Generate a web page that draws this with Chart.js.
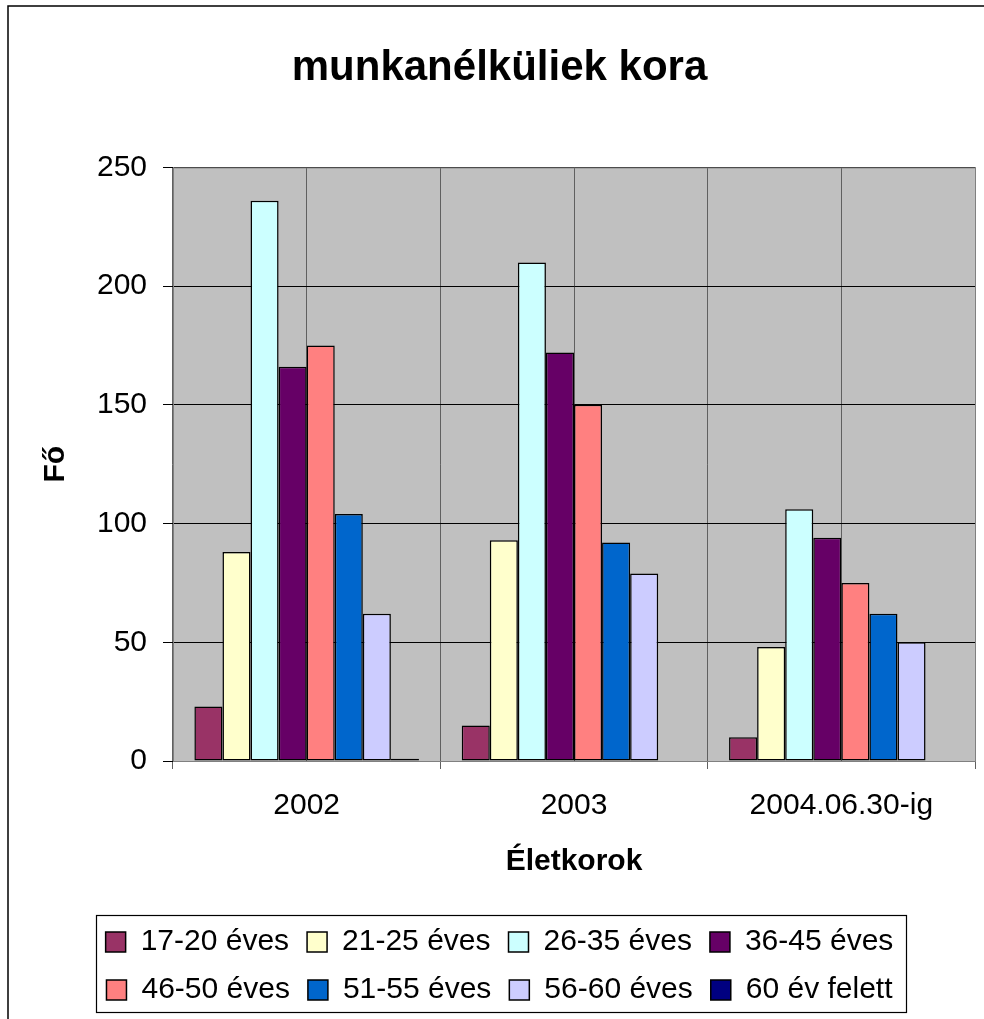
<!DOCTYPE html>
<html>
<head>
<meta charset="utf-8">
<script src="https://cdn.jsdelivr.net/npm/chart.js@4"></script>
<style>
    html, body { margin: 0; padding: 0; background: #fff; }
    #wrap { width: 984px; height: 1019px; }
</style>
</head>
<body>
<div id="wrap"><canvas id="barChart"></canvas></div>
<script>
// --- Adatok ---
const years = ['2002', '2003', '2004.06.30-ig'];
const ageGroups = ['17-20 éves', '21-25 éves', '26-35 éves', '36-45 éves', '46-50 éves', '51-55 éves', '56-60 éves', '60 év felett'];
const age17_20 = [23, 15, 10];
const age21_25 = [88, 93, 48];
const age26_35 = [236, 210, 106];
const age36_45 = [166, 172, 94];
const age46_50 = [175, 150, 75];
const age51_55 = [104, 92, 62];
const age56_60 = [62, 79, 50];
const age60plus = [1, 0, 0];
const yTicks = [0, 50, 100, 150, 200, 250];
const seriesColors = ['#993366', '#FFFFCC', '#CCFFFF', '#660066', '#FF8080', '#0066CC', '#CCCCFF', '#000080'];

const seriesValues = [age17_20, age21_25, age26_35, age36_45, age46_50, age51_55, age56_60, age60plus];
const FONT = "'Liberation Sans', Arial, sans-serif";

// --- Plot area background + outer frame + legend box ---
const framePlugin = {
    id: 'frame',
    beforeDraw(chart) {
        const { ctx, chartArea: a } = chart;
        ctx.save();
        ctx.fillStyle = '#C0C0C0';
        ctx.fillRect(a.left, a.top, a.right - a.left, a.bottom - a.top);
        ctx.restore();
    },
    afterDraw(chart) {
        const { ctx, chartArea: a } = chart;
        ctx.save();
        // plot area border (gray)
        ctx.strokeStyle = '#808080';
        ctx.lineWidth = 1;
        ctx.strokeRect(a.left + 0.5, a.top + 0.5, a.right - a.left, a.bottom - a.top);
        // outer chart frame
        ctx.strokeStyle = '#000';
        ctx.lineWidth = 1.5;
        ctx.strokeRect(8, 6, 1100, 1100);
        // legend frame
        const boxes = chart.legend.legendHitBoxes || [];
        if (boxes.length) {
            const l = Math.min(...boxes.map(b => b.left)) - 10;
            const r = Math.max(...boxes.map(b => b.left + b.width)) + 12;
            const t = Math.min(...boxes.map(b => b.top)) - 12;
            const btm = Math.max(...boxes.map(b => b.top + b.height)) + 7;
            ctx.strokeStyle = '#000';
            ctx.lineWidth = 1.2;
            ctx.strokeRect(Math.round(l) + 0.5, Math.round(t) + 0.5, Math.round(r - l), Math.round(btm - t));
        }
        ctx.restore();
    }
};

const ctx = document.getElementById('barChart').getContext('2d');
window.barChart = new Chart(ctx, {
    type: 'bar',
    data: {
        labels: years,
        datasets: ageGroups.map((name, i) => ({
            label: name,
            data: seriesValues[i],
            backgroundColor: seriesColors[i],
            borderColor: '#000',
            borderWidth: 1.5,
            borderSkipped: false,
            categoryPercentage: 0.84,
            barPercentage: 1.0
        }))
    },
    options: {
        responsive: true,
        maintainAspectRatio: false,
        animation: false,
        layout: { padding: { top: 0, right: 9, bottom: 4, left: 24 } },
        plugins: {
            title: {
                display: true,
                text: 'munkanélküliek kora',
                color: '#000',
                font: { family: FONT, size: 42, weight: 'bold' },
                padding: { top: 43, bottom: 74 }
            },
            legend: {
                position: 'bottom',
                labels: {
                    color: '#000',
                    font: { family: FONT, size: 30 },
                    boxWidth: 20,
                    boxHeight: 20,
                    padding: 18
                }
            },
            tooltip: { enabled: false }
        },
        scales: {
            x: {
                offset: true,
                grid: { offset: true, color: '#606060', lineWidth: 1, tickLength: 8, tickColor: '#606060' },
                border: { color: '#404040', width: 1 },
                ticks: { color: '#000', font: { family: FONT, size: 30 }, padding: 19, maxRotation: 0 },
                title: {
                    display: true,
                    text: 'Életkorok',
                    color: '#000',
                    font: { family: FONT, size: 30, weight: 'bold' },
                    padding: { top: 1, bottom: 29 }
                }
            },
            x2: {
                type: 'category',
                position: 'top',
                offset: true,
                grid: { offset: false, color: '#606060', lineWidth: 1, drawTicks: false },
                border: { display: false },
                ticks: { display: false }
            },
            y: {
                min: 0,
                max: 250,
                afterBuildTicks: s => { s.ticks = yTicks.map(v => ({ value: v })); },
                afterFit: s => { s.width = 149; },
                grid: { color: '#000', lineWidth: 1, tickLength: 10, tickColor: '#000' },
                border: { color: '#808080', width: 1 },
                ticks: { color: '#000', font: { family: FONT, size: 30 }, padding: 16 },
                title: {
                    display: true,
                    text: 'Fő',
                    color: '#000',
                    font: { family: FONT, size: 30, weight: 'bold' },
                    padding: { top: 14, bottom: 0 }
                }
            }
        }
    },
    plugins: [framePlugin]
});
</script>
</body>
</html>
